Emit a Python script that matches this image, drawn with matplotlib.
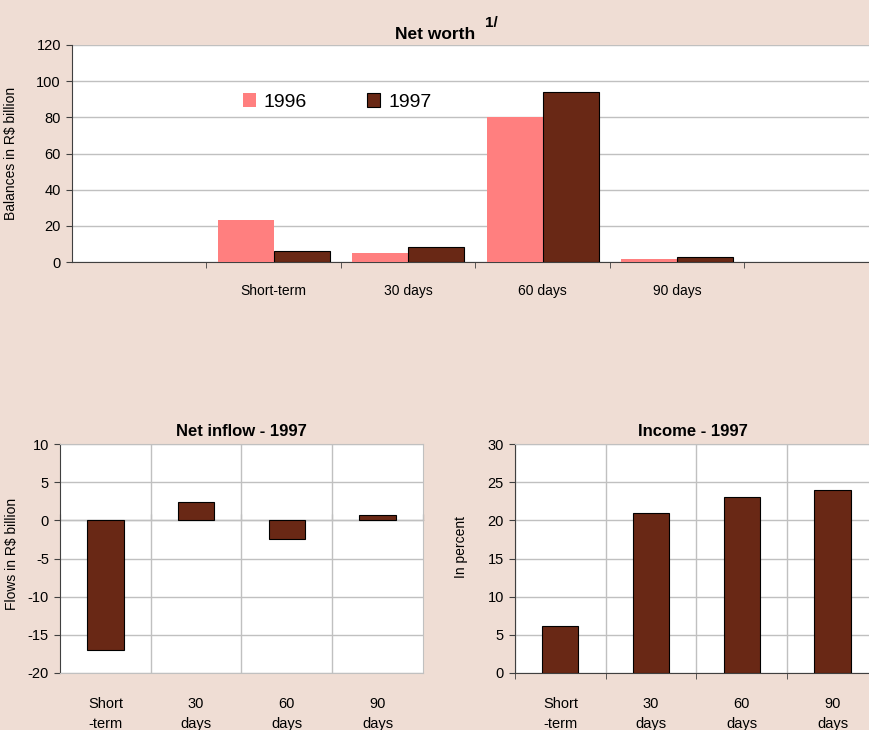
import numpy as np
import matplotlib
matplotlib.use("Agg")
import matplotlib.pyplot as plt
from matplotlib.patches import Patch

plt.rcParams['font.family'] = ['Liberation Sans', 'DejaVu Sans']
plt.rcParams['axes.unicode_minus'] = False

# Dados
cats_top = ["Short-term", "30 days", "60 days", "90 days"]
worth_1996 = [23.0, 4.8, 80.0, 1.5]
worth_1997 = [6.0, 8.4, 94.0, 2.7]

cats_bottom = ["Short\n-term", "30\ndays", "60\ndays", "90\ndays"]
inflow_1997 = [-17.0, 2.4, -2.5, 0.7]
income_1997 = [6.2, 21.0, 23.0, 24.0]

bg = "#EFDDD4"
pink = "#FF7F7F"
brown = "#692815"
grid = "#C0C0C0"
dark = "#404040"

W, H = 870, 730
fig = plt.figure(figsize=(8.7, 7.3), dpi=100, facecolor=bg)


def box(l, t, r, b):
    return [l/W, 1 - b/H, (r - l)/W, (b - t)/H]


# Net worth
ax = fig.add_axes(box(72, 45, 870, 262))
x = np.arange(1, len(cats_top) + 1)
w = 0.417
ax.bar(x - w/2, worth_1996, w, color=pink, linewidth=0, label="1996", zorder=3)
ax.bar(x + w/2, worth_1997, w, color=brown, edgecolor="black", linewidth=0.8,
       label="1997", zorder=3)
ax.set_xlim(-0.5, -0.5 + 798/134.5)
ax.set_ylim(0, 120)
ax.set_yticks(np.arange(0, 121, 20))
ax.yaxis.grid(True, color=grid, linewidth=1)
ax.set_axisbelow(True)
ax.set_xticks(x)
ax.set_xticklabels(cats_top, fontsize=10)
ax.set_xticks(np.arange(0.5, 5, 1), minor=True)
ax.tick_params(axis='x', which='major', length=0, pad=16)
ax.tick_params(axis='x', which='minor', length=4, direction='out', color=dark)
ax.tick_params(axis='y', length=4, color=dark, labelsize=10.5, pad=4)
for s in ['top', 'right']:
    ax.spines[s].set_visible(False)
ax.spines['left'].set_color(dark)
ax.spines['bottom'].set_color(dark)
ax.set_ylabel("Balances in R$ billion", fontsize=10)
ax.yaxis.set_label_coords(-0.068, 0.5)
fig.text(435/W, 1 - 39/H, "Net worth", fontsize=12.5, fontweight='bold',
         ha='center', va='baseline')
fig.text(485/W, 1 - 27/H, "1/", fontsize=11, fontweight='bold', va='baseline')
handles = [Patch(facecolor=pink, linewidth=0),
           Patch(facecolor=brown, edgecolor="black", linewidth=0.8)]
ax.legend(handles, ["1996", "1997"], ncol=2, frameon=False, fontsize=14,
          loc='center left', bbox_to_anchor=(243/W, 1 - 102/H),
          bbox_transform=fig.transFigure, borderpad=0, borderaxespad=0,
          handlelength=0.67, handleheight=0.67, handletextpad=0.4,
          columnspacing=3.1)


def style_bottom(ax, xmax):
    xb = np.arange(len(cats_bottom))
    ax.set_xlim(-0.5, xmax)
    ax.set_xticks(xb)
    ax.set_xticklabels(cats_bottom, fontsize=10.5, linespacing=1.6)
    ax.tick_params(axis='x', which='major', length=0, pad=17)
    ax.set_xticks(np.arange(0.5, 3, 1), minor=True)
    ax.tick_params(axis='x', which='minor', length=0)
    ax.grid(True, which='minor', axis='x', color=grid, linewidth=1)
    ax.yaxis.grid(True, color=grid, linewidth=1)
    ax.set_axisbelow(True)
    ax.tick_params(axis='y', length=4, color=dark, labelsize=10.5, pad=4)
    ax.spines['left'].set_color(dark)
    ax.spines['top'].set_color(grid)
    ax.spines['right'].set_color(grid)


# Net inflow
ax2 = fig.add_axes(box(60, 444, 423, 673))
xb = np.arange(len(cats_bottom))
ax2.bar(xb, inflow_1997, 0.4, color=brown, edgecolor="black", linewidth=0.8, zorder=3)
style_bottom(ax2, 3.5)
ax2.set_ylim(-20, 10)
ax2.set_yticks(np.arange(-20, 11, 5))
ax2.spines['bottom'].set_color(grid)
zero = ax2.secondary_xaxis(2/3)
zero.set_xticks(np.arange(-0.5, 4, 1), labels=[])
zero.tick_params(length=4, color=dark)
zero.spines['bottom'].set_color("black")
ax2.set_ylabel("Flows in R$ billion", fontsize=10)
ax2.yaxis.set_label_coords(-0.113, 0.52)
ax2.set_title("Net inflow - 1997", fontsize=12, fontweight='bold', pad=6)

# Income
ax3 = fig.add_axes(box(515, 444, 870, 673))
ax3.bar(xb, income_1997, 0.4, color=brown, edgecolor="black", linewidth=0.8, zorder=3)
style_bottom(ax3, -0.5 + 355/90.7)
ax3.spines['right'].set_visible(False)
ax3.spines['bottom'].set_color(dark)
ax3.set_ylim(0, 30)
ax3.set_yticks(np.arange(0, 31, 5))
ax3.set_xticks(np.arange(-0.5, 3, 1), minor=True)
ax3.tick_params(axis='x', which='minor', length=4, color=dark)
ax3.set_ylabel("In percent", fontsize=10)
ax3.yaxis.set_label_coords(-0.132, 0.55)
ax3.set_title("Income - 1997", fontsize=12, fontweight='bold', pad=6)

fig.savefig("out.png", dpi=100, facecolor=bg)
